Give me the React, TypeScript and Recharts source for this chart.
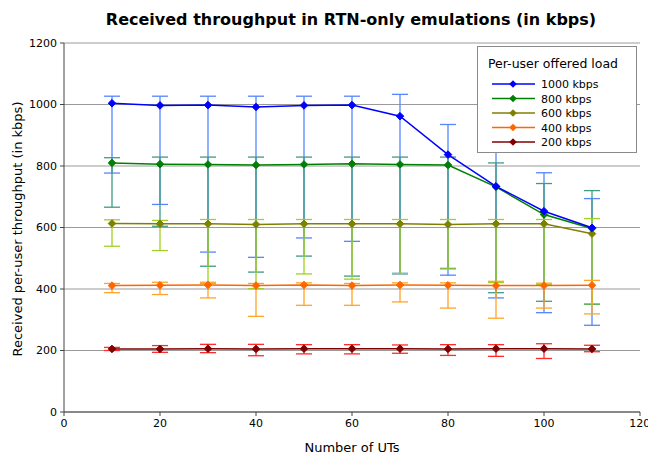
import React from 'react';
import { LineChart, Line, XAxis, YAxis, CartesianGrid, ErrorBar, Legend, Customized } from 'recharts';

const utCounts = [10, 20, 30, 40, 50, 60, 70, 80, 90, 100, 110];

const load1000Mean = [1004, 997, 998, 992, 997, 998, 962, 837, 734, 653, 599];
const load1000High = [1027, 1027, 1027, 1027, 1027, 1027, 1033, 935, 845, 778, 694];
const load1000Low = [777, 675, 520, 503, 566, 555, 449, 445, 371, 323, 282];

const load800Mean = [810, 806, 805, 803, 805, 807, 805, 803, 732, 642, 597];
const load800High = [827, 829, 829, 829, 829, 829, 829, 829, 810, 743, 720];
const load800Low = [666, 604, 474, 455, 507, 442, 451, 467, 388, 360, 350];

const load600Mean = [613, 612, 612, 610, 612, 612, 612, 610, 612, 612, 580];
const load600High = [625, 623, 626, 626, 626, 626, 626, 626, 626, 626, 629];
const load600Low = [539, 525, 418, 401, 449, 432, 450, 465, 421, 415, 352];

const load400Mean = [411, 412, 413, 411, 413, 411, 413, 412, 411, 411, 412];
const load400High = [418, 422, 422, 418, 420, 418, 420, 420, 425, 419, 428];
const load400Low = [388, 382, 371, 311, 347, 347, 358, 338, 305, 338, 319];

const load200Mean = [205, 205, 206, 205, 206, 206, 206, 205, 206, 206, 205];
const load200High = [210, 216, 220, 220, 219, 219, 218, 219, 219, 222, 217];
const load200Low = [200, 194, 193, 183, 189, 189, 191, 184, 181, 174, 196];

const xTicks = [0, 20, 40, 60, 80, 100, 120];
const yTicks = [0, 200, 400, 600, 800, 1000, 1200];

const series = [
  { key: 's1000', name: '1000 kbps', mean: load1000Mean, high: load1000High, low: load1000Low, color: '#0000ff', errColor: '#5585ff' },
  { key: 's800', name: '800 kbps', mean: load800Mean, high: load800High, low: load800Low, color: '#008000', errColor: '#3f9c84' },
  { key: 's600', name: '600 kbps', mean: load600Mean, high: load600High, low: load600Low, color: '#808000', errColor: '#a0d020' },
  { key: 's400', name: '400 kbps', mean: load400Mean, high: load400High, low: load400Low, color: '#ff6600', errColor: '#ffa526' },
  { key: 's200', name: '200 kbps', mean: load200Mean, high: load200High, low: load200Low, color: '#800000', errColor: '#ff2a2a' },
];

const data = utCounts.map((x, i) => {
  const row: any = { x };
  series.forEach((s) => {
    row[s.key] = s.mean[i];
    row[s.key + 'Err'] = [s.mean[i] - s.low[i], s.high[i] - s.mean[i]];
  });
  return row;
});

const FONT = '"DejaVu Sans", sans-serif';

const makeDiamond = (color: string) => (props: any) => {
  const { cx, cy, index } = props;
  if (cx == null || cy == null) return <g key={`d-${index}`} />;
  const r = 3.8;
  return (
    <polygon
      key={`d-${color}-${index}`}
      points={`${cx},${cy - r} ${cx + r},${cy} ${cx},${cy + r} ${cx - r},${cy}`}
      fill={color}
      stroke={color}
      strokeWidth={1}
    />
  );
};

const renderLegend = () => (
  <div style={{ width: 160, height: 107, boxSizing: 'border-box', border: '1px solid #8a8a8a', background: '#fff', fontFamily: FONT }}>
    <svg width={158} height={105} style={{ display: 'block' }}>
      <text x={10} y={21} fontSize={12.5} fill="#000">Per-user offered load</text>
      {series.map((s, i) => {
        const y = 37 + i * 14.5;
        return (
          <g key={s.key}>
            <line x1={14} x2={57} y1={y} y2={y} stroke={s.color} strokeWidth={1.5} />
            <polygon points={`35,${y - 3.8} 38.8,${y} 35,${y + 3.8} 31.2,${y}`} fill={s.color} />
            <text x={63} y={y + 4} fontSize={11} fill="#000">{s.name}</text>
          </g>
        );
      })}
    </svg>
  </div>
);

const Titles = () => (
  <g fontFamily={FONT}>
    <text x={351} y={25} textAnchor="middle" fontSize={16} fontWeight="bold" fill="#000">
      Received throughput in RTN-only emulations (in kbps)
    </text>
    <text x={352} y={452} textAnchor="middle" fontSize={13} fill="#000">
      Number of UTs
    </text>
    <text transform="translate(22,229) rotate(-90)" textAnchor="middle" fontSize={13} fill="#000">
      Received per-user throughput (in kbps)
    </text>
  </g>
);

export default function App() {
  const lineOrder = [...series].reverse();
  return (
    <div style={{ position: 'absolute', left: 0, top: 0, width: 648, height: 457, background: '#fff' }}>
      <LineChart
        width={648}
        height={457}
        data={data}
        margin={{ top: 43, right: 8, left: 0, bottom: 0 }}
        style={{ fontFamily: FONT }}
      >
        <CartesianGrid horizontal={true} vertical={false} stroke="#9a9a9a" strokeWidth={1} />
        <XAxis
          dataKey="x"
          type="number"
          domain={[0, 120]}
          ticks={xTicks}
          height={45}
          stroke="#444"
          tickSize={4}
          tickMargin={3}
          tick={{ fontSize: 11, fill: '#000', fontFamily: FONT }}
          allowDataOverflow
        />
        <YAxis
          type="number"
          domain={[0, 1200]}
          ticks={yTicks}
          width={64}
          stroke="#444"
          tickSize={4}
          tickMargin={3}
          tick={{ fontSize: 11, fill: '#000', fontFamily: FONT }}
        />
        {series.map((s) => (
          <Line
            key={s.key + 'eb'}
            dataKey={s.key}
            stroke="none"
            dot={false}
            activeDot={false}
            legendType="none"
            isAnimationActive={false}
          >
            <ErrorBar dataKey={s.key + 'Err'} direction="y" stroke={s.errColor} strokeWidth={1.3} width={8} isAnimationActive={false} />
          </Line>
        ))}
        {lineOrder.map((s) => (
          <Line
            key={s.key}
            dataKey={s.key}
            name={s.name}
            stroke={s.color}
            strokeWidth={1.5}
            dot={makeDiamond(s.color)}
            activeDot={false}
            isAnimationActive={false}
          />
        ))}
        <Legend
          content={renderLegend}
          layout="horizontal"
          verticalAlign="middle"
          align="center"
          wrapperStyle={{ left: 477, top: 46, width: 160, height: 107 }}
        />
        <Customized component={Titles} />
      </LineChart>
    </div>
  );
}
